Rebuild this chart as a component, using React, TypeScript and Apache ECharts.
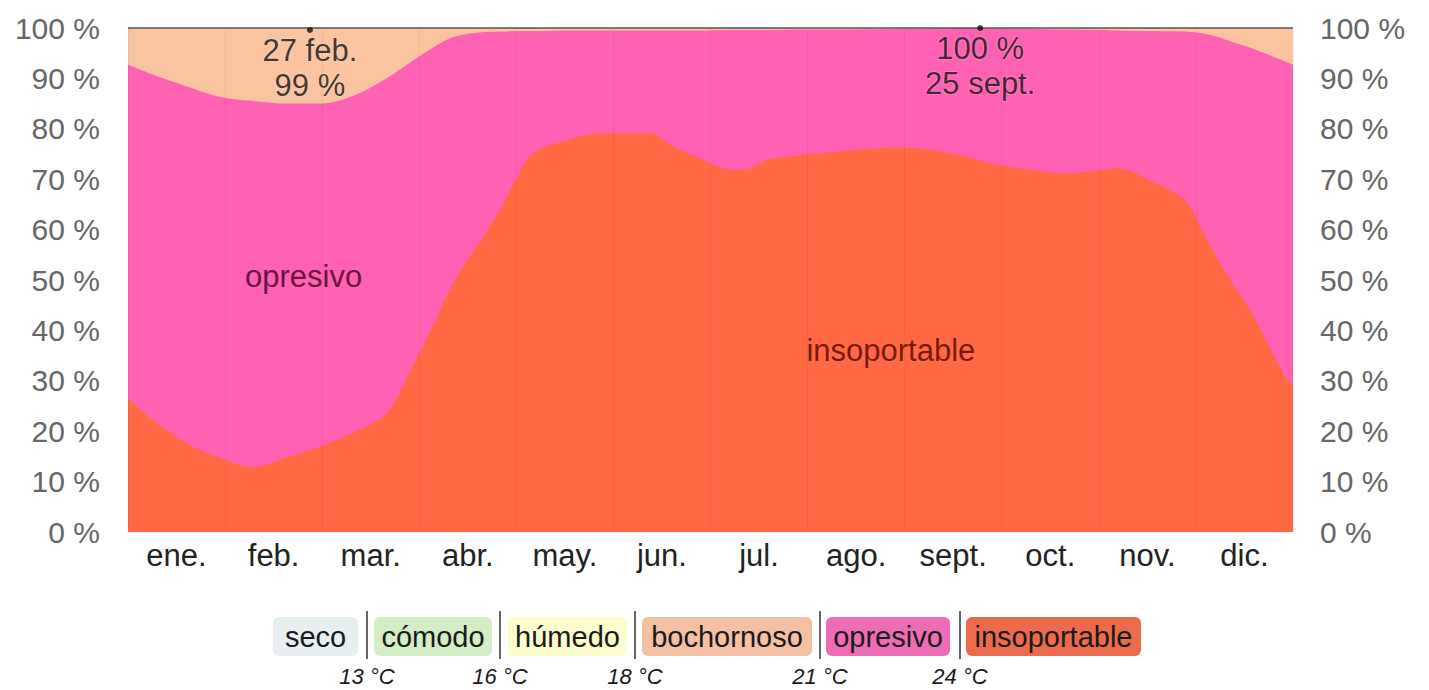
import React, { useEffect, useRef } from "react";
import * as echarts from "echarts";

const months = ["ene.", "feb.", "mar.", "abr.", "may.", "jun.", "jul.", "ago.", "sept.", "oct.", "nov.", "dic."];

// day of year for each sample
const days = [0, 8, 18, 29, 39, 50, 60, 70, 81, 88, 94, 102, 112, 117, 122, 127, 138, 148, 164, 169, 179, 190, 195, 200, 211, 221, 242, 252, 263, 273, 284, 294, 305, 310, 320, 331, 336, 341, 346, 352, 357, 362, 365];

// upper edge (%) of each band
const insoportableTop = [26.5, 22.2, 17.7, 14.7, 12.9, 14.9, 16.9, 19.6, 23.5, 31.5, 39.0, 49.5, 59.3, 64.5, 70.5, 75.2, 77.8, 79.1, 79.1, 77.2, 74.2, 71.8, 72.2, 73.8, 74.8, 75.4, 76.3, 75.8, 74.4, 72.8, 71.8, 71.2, 71.8, 72.2, 69.8, 65.9, 60.5, 54.6, 49.4, 43.5, 37.5, 31.5, 29.0];
const opresivoTop = [92.7, 90.7, 88.5, 86.3, 85.5, 85.0, 85.0, 86.4, 90.0, 93.0, 95.5, 98.2, 99.2, 99.3, 99.4, 99.4, 99.5, 99.5, 99.5, 99.5, 99.5, 99.6, 99.6, 99.6, 99.7, 99.7, 99.8, 99.9, 100, 99.9, 99.8, 99.7, 99.6, 99.5, 99.4, 99.3, 99.0, 98.3, 97.2, 96.0, 94.8, 93.5, 92.7];
const bochornosoTop = [100, 100, 100, 100, 100, 100, 100, 100, 100, 100, 100, 100, 100, 100, 100, 100, 100, 100, 100, 100, 100, 100, 100, 100, 100, 100, 100, 100, 100, 100, 100, 100, 100, 100, 100, 100, 100, 100, 100, 100, 100, 100, 100];

const annotDays = [57, 267];
const annotValues = [99.6, 100];
const annotLabels = ["27 feb.\n99 %", "100 %\n25 sept."];

const legendNames = ["seco", "cómodo", "húmedo", "bochornoso", "opresivo", "insoportable"];
const legendColors = ["#E8EFF1", "#D3EDC5", "#FDFDCD", "#F3C0A3", "#EC6CB6", "#EC6B4C"];
const thresholds = ["13 °C", "16 °C", "18 °C", "21 °C", "24 °C"];

const FONT = "'Liberation Sans', Arial, sans-serif";

function buildLegend() {
  const elements: any[] = [];
  const boxX = [273, 374, 508, 642, 826, 966];
  const boxW = [85, 118, 119, 170, 124, 175];
  const sepX = [367, 500, 635, 820, 960];
  legendNames.forEach((n, i) => {
    elements.push({
      type: "rect",
      shape: { x: boxX[i], y: 617, width: boxW[i], height: 39, r: 6 },
      style: { fill: legendColors[i] },
    });
    elements.push({
      type: "text",
      x: boxX[i] + boxW[i] / 2,
      y: 637,
      style: { text: n, fill: "#1a1a1a", font: `29px ${FONT}`, align: "center", verticalAlign: "middle" },
    });
  });
  thresholds.forEach((t, i) => {
    elements.push({
      type: "line",
      shape: { x1: sepX[i], y1: 611, x2: sepX[i], y2: 659 },
      style: { stroke: "#666", lineWidth: 2 },
    });
    elements.push({
      type: "text",
      x: sepX[i],
      y: 676,
      style: { text: t, fill: "#1a1a1a", font: `italic 22px ${FONT}`, align: "center", verticalAlign: "middle" },
    });
  });
  return elements;
}

export default function App() {
  const ref = useRef<HTMLDivElement>(null);
  useEffect(() => {
    if (!ref.current) return;
    const chart = echarts.init(ref.current, null, { renderer: "svg" });
    const mk = (arr: number[]) => days.map((d, i) => [d, arr[i]]);
    const yAxisCommon = {
      type: "value",
      min: 0,
      max: 100,
      interval: 10,
      axisLine: { show: false },
      axisTick: { show: false },
      axisLabel: { formatter: "{value} %", color: "#666", fontSize: 30, fontFamily: FONT },
    };
    const band = (name: string, arr: number[], color: string, z: number, extra: any = {}) => ({
      name,
      type: "line",
      xAxisIndex: 1,
      data: mk(arr),
      smooth: 0.35,
      symbol: "none",
      lineStyle: { width: 0 },
      areaStyle: { color, opacity: 1, origin: "start" },
      z,
      ...extra,
    });
    chart.setOption({
      animation: false,
      backgroundColor: "#fff",
      grid: { left: 128, right: 136, top: 28, bottom: 158 },
      xAxis: [
        {
          type: "category",
          data: months,
          boundaryGap: true,
          axisLine: { show: false },
          axisTick: { show: false },
          axisLabel: { color: "#222", fontSize: 31, fontFamily: FONT, margin: 8 },
          splitLine: { show: true, lineStyle: { color: "rgba(0,0,0,0.05)", width: 1 } },
          z: 10,
        },
        {
          type: "value",
          min: 0,
          max: 365,
          show: false,
        },
      ],
      yAxis: [
        {
          ...yAxisCommon,
          position: "left",
          axisLabel: { ...yAxisCommon.axisLabel, margin: 28 },
          splitLine: { show: true, lineStyle: { color: "rgba(0,0,0,0.05)", width: 1 } },
        },
        {
          ...yAxisCommon,
          position: "right",
          axisLabel: { ...yAxisCommon.axisLabel, margin: 27 },
          splitLine: { show: false },
        },
      ],
      series: [
        band("bochornoso", bochornosoTop, "#FAC4A0", 1, {
          markLine: {
            silent: true,
            symbol: "none",
            label: { show: false },
            lineStyle: { color: "#555", width: 1.5, type: "solid" },
            data: [{ yAxis: 100 }],
          },
        }),
        band("opresivo", opresivoTop, "#FF62B2", 2, {
          markPoint: {
            symbol: "circle",
            symbolSize: 0,
            data: [{ coord: [55, 50.6], value: "opresivo" }],
            label: { show: true, formatter: "opresivo", color: "#6A1443", fontSize: 31, fontFamily: FONT },
          },
        }),
        band("insoportable", insoportableTop, "#FF6A45", 3, {
          markPoint: {
            symbol: "circle",
            symbolSize: 0,
            data: [{ coord: [239, 36], value: "insoportable" }],
            label: { show: true, formatter: "insoportable", color: "#7A1A0E", fontSize: 31, fontFamily: FONT },
          },
        }),
        {
          name: "annot",
          type: "scatter",
          xAxisIndex: 1,
          data: annotDays.map((d, i) => ({ value: [d, annotValues[i]], label: { formatter: annotLabels[i] } })),
          symbolSize: 6,
          itemStyle: { color: "#111" },
          label: {
            show: true,
            position: "bottom",
            distance: 0,
            color: "#111",
            fontSize: 31,
            lineHeight: 35,
            fontFamily: FONT,
            align: "center",
            textBorderColor: "rgba(255,255,255,0.2)",
            textBorderWidth: 2,
          },
          z: 5,
        },
      ],
      graphic: buildLegend(),
    });
    return () => chart.dispose();
  }, []);
  return <div ref={ref} style={{ position: "fixed", left: 0, top: 0, width: 1429, height: 690 }} />;
}
